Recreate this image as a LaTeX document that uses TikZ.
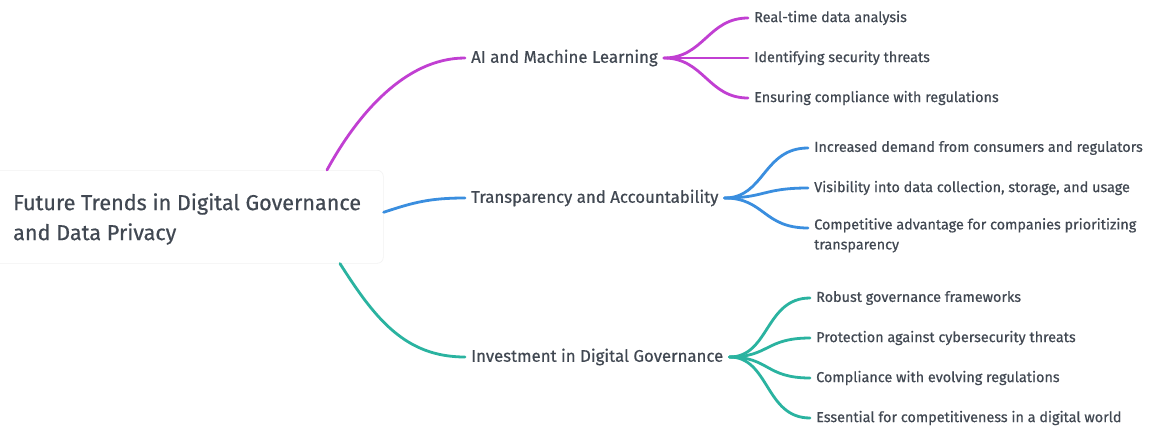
\documentclass[tikz,border=0pt]{standalone}
\usepackage{fontspec}
\setmainfont{Fira Sans}[FakeBold=0.5]
\usetikzlibrary{calc}
\definecolor{txt}{HTML}{414852}
\definecolor{cmag}{HTML}{C13FD2}
\definecolor{cblue}{HTML}{3A8EDF}
\definecolor{cteal}{HTML}{2AB3A0}
\tikzset{
  rootbox/.style={fill=white, rounded corners=6pt, draw=black!5, line width=0.6pt, minimum width=391pt, minimum height=93pt, inner sep=0pt},
  roottext/.style={text=txt, font=\fontsize{21.6}{30}\selectfont, align=left, anchor=west, inner sep=0pt},
  lab/.style={text=txt, font=\fontsize{16.8}{18}\selectfont, anchor=west, inner xsep=6pt, inner ysep=2pt},
  leaf/.style={text=txt, font=\fontsize{14.4}{20}\selectfont, anchor=west, inner xsep=6pt, inner ysep=1pt, align=left},
  conn/.style={line width=2.8pt, line cap=round},
}
\begin{document}
\begin{tikzpicture}[x=1pt,y=-1pt]
\useasboundingbox (0,0) rectangle (1149,429);
\fill[white] (0,0) rectangle (1149,429);
% root
\node[rootbox, anchor=north west] (root) at (-8,170) {};
\node[roottext] (rt) at (13,219) {Future Trends in Digital Governance\\and Data Privacy};
% level 1
\node[lab] (ai) at (465,58) {AI and Machine Learning};
\node[lab] (tr) at (465,198) {Transparency and Accountability};
\node[lab] (inv) at (465,357) {Investment in Digital Governance};
% leaves AI
\node[leaf] (a1) at (748,18) {Real-time data analysis};
\node[leaf] (a2) at (748,58) {Identifying security threats};
\node[leaf] (a3) at (748,98) {Ensuring compliance with regulations};
% leaves transparency
\node[leaf] (t1) at (808,148) {Increased demand from consumers and regulators};
\node[leaf] (t2) at (808,188) {Visibility into data collection, storage, and usage};
\coordinate (t3c) at (808,228);
\node[leaf, anchor=north west] (t3) at (808,217) {Competitive advantage for companies prioritizing\\transparency};
% leaves investment
\node[leaf] (i1) at (810,298) {Robust governance frameworks};
\node[leaf] (i2) at (810,338) {Protection against cybersecurity threats};
\node[leaf] (i3) at (810,378) {Compliance with evolving regulations};
\node[leaf] (i4) at (810,418) {Essential for competitiveness in a digital world};
% main connectors
\draw[conn, cmag] ([xshift=335pt]root.north west) .. controls +(30,-55) and +(-60,0) .. (ai.west);
\draw[conn, cblue] ([yshift=4.5pt]root.east) .. controls +(30,-10) and +(-35,0) .. (tr.west);
\draw[conn, cteal] ([xshift=348pt]root.south west) .. controls +(35,55) and +(-60,0) .. (inv.west);
% forks
\foreach \c in {a1,a2,a3}{
  \draw[conn, cmag] (ai.east) .. controls +(40,0) and +(-40,0) .. (\c.west);
}
\foreach \c in {t1,t2}{
  \draw[conn, cblue] (tr.east) .. controls +(40,0) and +(-45,0) .. (\c.west);
}
\draw[conn, cblue] (tr.east) .. controls +(40,0) and +(-45,0) .. (t3c);
\foreach \c in {i1,i2,i3,i4}{
  \draw[conn, cteal] (inv.east) .. controls +(40,0) and +(-45,0) .. (\c.west);
}
\end{tikzpicture}
\end{document}
